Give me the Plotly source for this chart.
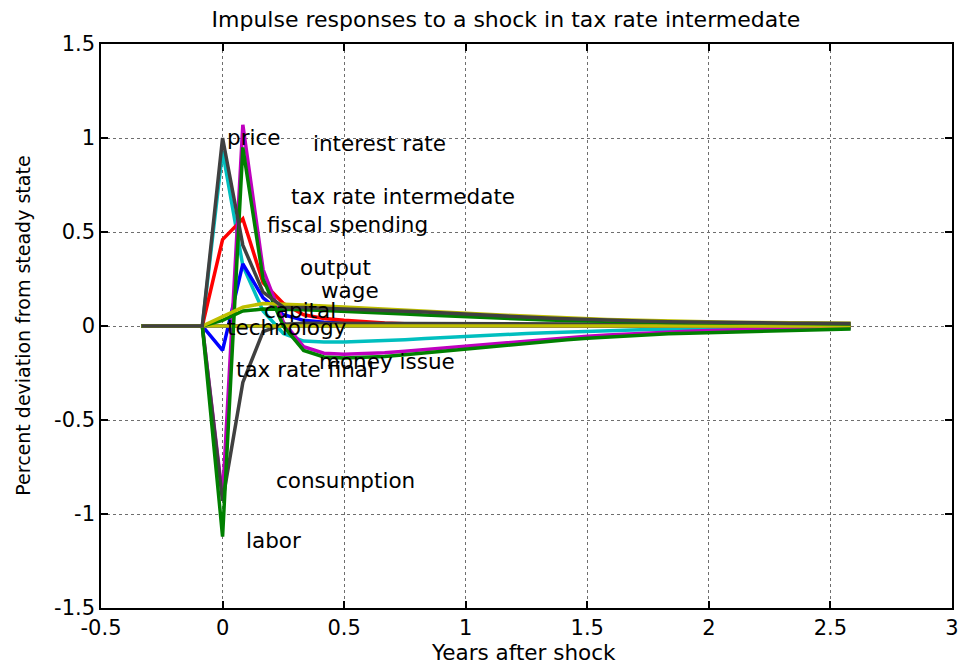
import plotly.graph_objects as go

# Time axis in months relative to the shock (converted to years below)
months = list(range(-4, 32))
years = [m / 12 for m in months]

# Impulse responses, percent deviation from steady state (months -4 .. 31)
price = [0, 0, 0, 0,
         1.00, 0.43, 0.18, 0.100, 0.098, 0.095, 0.092, 0.088, 0.084, 0.079, 0.074, 0.068,
         0.062, 0.056, 0.051, 0.046, 0.042, 0.038, 0.034, 0.031, 0.028, 0.025, 0.023, 0.021,
         0.019, 0.018, 0.017, 0.016, 0.015, 0.014, 0.013, 0.013]
interest_rate = [0, 0, 0, 0,
                 0.93, 0.32, 0.08, -0.04, -0.08, -0.085, -0.085, -0.082, -0.078, -0.073, -0.067, -0.061,
                 -0.055, -0.050, -0.045, -0.040, -0.036, -0.032, -0.028, -0.025, -0.022, -0.019, -0.017, -0.015,
                 -0.013, -0.012, -0.011, -0.010, -0.009, -0.008, -0.007, -0.007]
tax_rate_intermedate = [0, 0, 0, 0,
                        -0.91, 1.07, 0.30, 0.02, -0.11, -0.145, -0.150, -0.148, -0.142, -0.134, -0.125, -0.115,
                        -0.105, -0.095, -0.086, -0.077, -0.069, -0.061, -0.054, -0.048, -0.042, -0.037, -0.032, -0.028,
                        -0.024, -0.021, -0.018, -0.016, -0.014, -0.012, -0.011, -0.010]
fiscal_spending = [0, 0, 0, 0,
                   0.46, 0.57, 0.23, 0.12, 0.06, 0.04, 0.030, 0.022, 0.016, 0.012, 0.009, 0.007,
                   0.005, 0.004, 0.004, 0.003, 0.003, 0.002, 0.002, 0.002, 0.002, 0.001, 0.001, 0.001,
                   0.001, 0.001, 0.001, 0.001, 0.001, 0.001, 0.001, 0.001]
output = [0, 0, 0, 0,
          -0.13, 0.33, 0.15, 0.06, 0.03, 0.02, 0.015, 0.012, 0.010, 0.009, 0.008, 0.008,
          0.007, 0.007, 0.006, 0.006, 0.006, 0.005, 0.005, 0.005, 0.005, 0.004, 0.004, 0.004,
          0.004, 0.004, 0.003, 0.003, 0.003, 0.003, 0.003, 0.003]
wage = [0, 0, 0, 0,
        0.03, 0.08, 0.09, 0.090, 0.087, 0.083, 0.079, 0.074, 0.069, 0.064, 0.058, 0.053,
        0.048, 0.044, 0.040, 0.036, 0.032, 0.029, 0.026, 0.024, 0.022, 0.020, 0.018, 0.017,
        0.016, 0.015, 0.014, 0.013, 0.012, 0.012, 0.011, 0.011]
capital = [0, 0, 0, 0,
           0.05, 0.10, 0.12, 0.118, 0.112, 0.106, 0.100, 0.095, 0.090, 0.085, 0.080, 0.074,
           0.068, 0.062, 0.057, 0.052, 0.047, 0.043, 0.039, 0.035, 0.032, 0.029, 0.026, 0.024,
           0.022, 0.020, 0.019, 0.018, 0.017, 0.016, 0.015, 0.014]
technology = [0] * 36
tax_rate_final = [0] * 36
money_issue = [0] * 36
consumption = [0, 0, 0, 0,
               -0.93, -0.30, -0.03, 0.010, 0.015, 0.015, 0.015, 0.015, 0.015, 0.015, 0.015, 0.014,
               0.014, 0.013, 0.013, 0.012, 0.012, 0.011, 0.011, 0.010, 0.010, 0.009, 0.009, 0.009,
               0.008, 0.008, 0.008, 0.007, 0.007, 0.007, 0.006, 0.006]
labor = [0, 0, 0, 0,
         -1.12, 0.95, 0.25, 0.00, -0.13, -0.165, -0.170, -0.168, -0.162, -0.153, -0.143, -0.132,
         -0.120, -0.110, -0.100, -0.090, -0.081, -0.073, -0.065, -0.058, -0.052, -0.046, -0.041, -0.038,
         -0.035, -0.032, -0.029, -0.026, -0.023, -0.020, -0.018, -0.016]

GRAY = "rgb(64,64,64)"
CYAN = "rgb(0,191,191)"
RED = "rgb(255,0,0)"
BLUE = "rgb(0,0,255)"
GREEN = "rgb(0,128,0)"
MAGENTA = "rgb(191,0,191)"
OLIVE = "rgb(191,191,0)"

# drawing order: first listed ends up underneath
series = [
    ("tax rate final", tax_rate_final, GRAY),
    ("money issue", money_issue, BLUE),
    ("interest rate", interest_rate, CYAN),
    ("output", output, BLUE),
    ("fiscal spending", fiscal_spending, RED),
    ("tax rate intermedate", tax_rate_intermedate, MAGENTA),
    ("consumption", consumption, GRAY),
    ("technology", technology, OLIVE),
    ("labor", labor, GREEN),
    ("wage", wage, GREEN),
    ("capital", capital, OLIVE),
    ("price", price, GRAY),
]

# text labels placed in data coordinates (left edge, vertical centre)
label_names = ["price", "interest rate", "tax rate intermedate", "fiscal spending",
               "output", "wage", "capital", "technology", "tax rate final",
               "money issue", "consumption", "labor"]
label_x = [0.008, 0.363, 0.273, 0.176, 0.31, 0.396, 0.163, 0.008, 0.049, 0.388, 0.212, 0.09]
label_y = [1.005, 0.973, 0.69, 0.54, 0.31, 0.19, 0.085, -0.01, -0.23, -0.19, -0.82, -1.14]

FONT = "DejaVu Sans"

fig = go.Figure()
for name, vals, color in series:
    fig.add_trace(go.Scatter(x=years, y=vals, mode="lines", name=name,
                             line=dict(color=color, width=3.5)))

for txt, lx, ly in zip(label_names, label_x, label_y):
    fig.add_annotation(x=lx, y=ly, text=txt, showarrow=False,
                       xanchor="left", yanchor="middle",
                       font=dict(family=FONT, size=21.5, color="black"))

# axis titles
fig.add_annotation(x=0.4965, y=-0.079, xref="paper", yref="paper",
                   text="Years after shock", showarrow=False,
                   xanchor="center", yanchor="middle",
                   font=dict(family=FONT, size=21.5, color="black"))
fig.add_annotation(x=-0.092, y=0.5, xref="paper", yref="paper",
                   text="Percent deviation from steady state", showarrow=False,
                   textangle=-90, xanchor="center", yanchor="middle",
                   font=dict(family=FONT, size=19, color="black"))

axis_common = dict(
    showline=True, linecolor="black", linewidth=1.5, mirror="ticks",
    ticks="inside", ticklen=7, tickcolor="black", tickwidth=1.5,
    showgrid=True, gridcolor="rgb(110,110,110)", griddash="dot", gridwidth=1,
    zeroline=False,
    tickfont=dict(family=FONT, size=21, color="black"),
)

x_ticks = [-0.5, 0, 0.5, 1, 1.5, 2, 2.5, 3]
x_ticktext = ["-0.5", "0", "0.5", "1", "1.5", "2", "2.5", "3"]
y_ticks = [-1.5, -1, -0.5, 0, 0.5, 1, 1.5]
y_ticktext = ["-1.5", "-1", "-0.5", "0", "0.5", "1", "1.5"]

fig.update_xaxes(range=[-0.5, 3], tickvals=x_ticks, ticktext=x_ticktext, **axis_common)
fig.update_yaxes(range=[-1.5, 1.5], tickvals=y_ticks, ticktext=y_ticktext, **axis_common)

fig.update_layout(
    width=968, height=666,
    margin=dict(l=101, r=9, t=44, b=58),
    paper_bgcolor="white", plot_bgcolor="white",
    showlegend=False,
    title=dict(text="Impulse responses to a shock in tax rate intermedate",
               x=0.5227, xref="container", xanchor="center",
               y=1 - 19 / 666, yref="container", yanchor="middle",
               font=dict(family=FONT, size=22, color="black")),
)

fig.write_html("out.html")
